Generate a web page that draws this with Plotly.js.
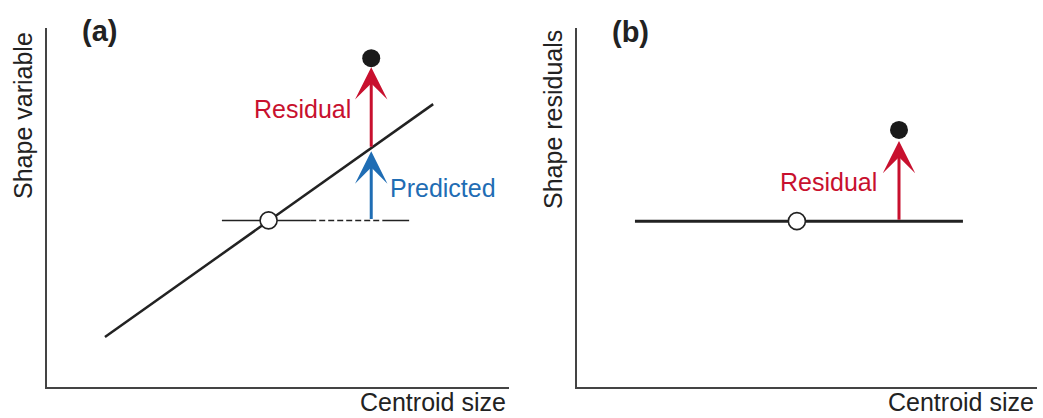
<!DOCTYPE html>
<html>
<head>
<meta charset="utf-8">
<script src="https://cdn.plot.ly/plotly-3.0.1.min.js"></script>
<style>html,body{margin:0;padding:0;background:#fff;}#chart{width:1043px;height:418px;}</style>
</head>
<body>
<div id="chart"></div>
<script>
// ---- Data (conceptual units) ----
// Panel (a): shape variable vs centroid size
const regLineX = [1.26, 8.36];
const regLineY = [1.39, 7.88];
const refSolidX = [3.79, 5.70];
const refDashX = [5.70, 7.27];
const refTailX = [7.27, 7.84];
const meanA = {x: 4.80, y: 4.64};
const specimenA = {x: 7.02, y: 9.16};
const predictedA = 6.65;           // fitted value at specimen's size
// Panel (b): shape residuals vs centroid size
const zeroLineX = [1.26, 8.39];
const zeroLineY = 4.62;
const meanB = {x: 4.78, y: 4.62};
const specimenB = {x: 7.00, y: 7.16};
// Labels
const panelLabels = ['(a)', '(b)'];
const yTitles = ['Shape variable', 'Shape residuals'];
const xTitle = 'Centroid size';
const residualLabel = 'Residual';
const predictedLabel = 'Predicted';

const RED = '#c8102e', BLUE = '#1f6db4', INK = '#222222';
const FONT = 'Liberation Sans, Arial, Helvetica, sans-serif';

function seg(xs, ys, xa, ya, dash, width) {
  return {x: xs, y: ys, xaxis: xa, yaxis: ya, mode: 'lines', type: 'scatter',
    line: {color: INK, width: width, dash: dash || 'solid'}, hoverinfo: 'skip'};
}
const traces = [
  seg(regLineX, regLineY, 'x', 'y', 'solid', 2.5),
  seg(refSolidX, [meanA.y, meanA.y], 'x', 'y', 'solid', 1.5),
  seg(refDashX, [meanA.y, meanA.y], 'x', 'y', '6px,3px', 1.5),
  seg(refTailX, [meanA.y, meanA.y], 'x', 'y', 'solid', 1.5),
  {x: [meanA.x], y: [meanA.y], xaxis: 'x', yaxis: 'y', mode: 'markers', type: 'scatter',
    marker: {size: 17, color: '#fff', line: {color: INK, width: 1.6}}},
  {x: [specimenA.x], y: [specimenA.y], xaxis: 'x', yaxis: 'y', mode: 'markers', type: 'scatter',
    marker: {size: 18, color: '#1a1a1a'}},
  seg(zeroLineX, [zeroLineY, zeroLineY], 'x2', 'y2', 'solid', 3),
  {x: [meanB.x], y: [meanB.y], xaxis: 'x2', yaxis: 'y2', mode: 'markers', type: 'scatter',
    marker: {size: 17, color: '#fff', line: {color: INK, width: 1.6}}},
  {x: [specimenB.x], y: [specimenB.y], xaxis: 'x2', yaxis: 'y2', mode: 'markers', type: 'scatter',
    marker: {size: 18, color: '#1a1a1a'}}
];

function arrow(xr, yr, x, yTip, yTail, color, standoff) {
  return {xref: xr, yref: yr, axref: xr, ayref: yr, x: x, y: yTip, ax: x, ay: yTail,
    text: '', showarrow: true, arrowhead: 3, arrowwidth: 3, arrowsize: 1.8,
    arrowcolor: color, standoff: standoff};
}
function txt(xr, yr, x, y, text, color, xanchor, size, extra) {
  return Object.assign({xref: xr, yref: yr, x: x, y: y, text: text, showarrow: false,
    xanchor: xanchor, yanchor: 'middle', font: {family: FONT, size: size, color: color}}, extra || {});
}

const annotations = [
  arrow('x', 'y', specimenA.x, predictedA, meanA.y, BLUE, 3),
  arrow('x', 'y', specimenA.x, specimenA.y, predictedA, RED, 9),
  arrow('x2', 'y2', specimenB.x, specimenB.y, zeroLineY, RED, 11),
  txt('x', 'y', 6.62, 7.74, residualLabel, RED, 'right', 25),
  txt('x', 'y', 7.38, 5.55, predictedLabel, BLUE, 'left', 25),
  txt('x2', 'y2', 6.56, 5.72, residualLabel, RED, 'right', 25),
  txt('paper', 'paper', 99/1043, 1 - 31/418, '<b>' + panelLabels[0] + '</b>', INK, 'center', 29),
  txt('paper', 'paper', 630/1043, 1 - 32/418, '<b>' + panelLabels[1] + '</b>', INK, 'center', 29),
  txt('paper', 'paper', 23/1043, 1 - 116/418, yTitles[0], INK, 'center', 25, {textangle: -90}),
  txt('paper', 'paper', 553/1043, 1 - 120/418, yTitles[1], INK, 'center', 25, {textangle: -90}),
  txt('paper', 'paper', 508/1043, 1 - 402/418, xTitle, INK, 'right', 25),
  txt('paper', 'paper', 1036/1043, 1 - 402/418, xTitle, INK, 'right', 25)
];

const axBase = {range: [0, 10], showgrid: false, zeroline: false, showticklabels: false,
  ticks: '', showline: true, linecolor: '#444', linewidth: 2, fixedrange: true};
const yDom = [(418 - 387) / 418, (418 - 28) / 418];
const layout = {
  width: 1043, height: 418, margin: {l: 0, r: 0, t: 0, b: 0},
  paper_bgcolor: '#fff', plot_bgcolor: '#fff', showlegend: false,
  xaxis: Object.assign({}, axBase, {domain: [46.7 / 1043, 509 / 1043], anchor: 'y'}),
  yaxis: Object.assign({}, axBase, {domain: yDom, anchor: 'x'}),
  xaxis2: Object.assign({}, axBase, {domain: [577 / 1043, 1037 / 1043], anchor: 'y2'}),
  yaxis2: Object.assign({}, axBase, {domain: yDom, anchor: 'x2'}),
  annotations: annotations
};
Plotly.newPlot('chart', traces, layout, {staticPlot: true, displayModeBar: false});
</script>
</body>
</html>
